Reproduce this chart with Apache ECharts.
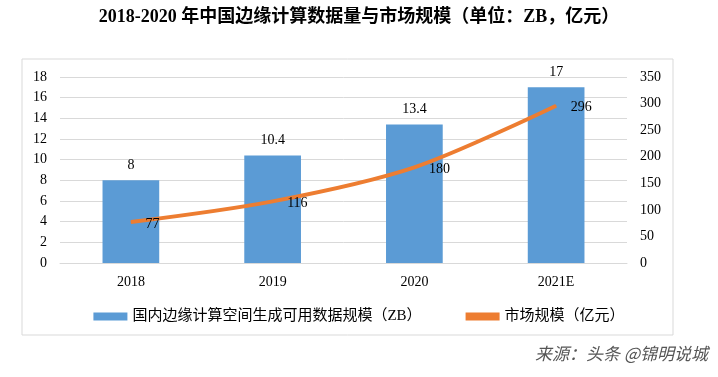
<!DOCTYPE html>
<html>
<head>
    <meta charset="utf-8">
    <title>中国边缘计算数据量与市场规模</title>
    <script src="https://cdn.jsdelivr.net/npm/echarts@6/dist/echarts.min.js"></script>
    <style>
        body { margin: 0; background: #fff; }
        #main { width: 718px; height: 377px; }
    </style>
</head>
<body>
<div id="main"></div>
<script type="text/javascript">
    // 数据
    var years = ['2018', '2019', '2020', '2021E'];
    var dataVolume = [8, 10.4, 13.4, 17];       // ZB
    var marketSize = [77, 116, 180, 296];       // 亿元
    var leftTicks = [0, 18, 2];
    var rightTicks = [0, 350, 50];

    var serif = '"Liberation Serif", "Noto Sans CJK SC", serif';

    var myChart = echarts.init(document.getElementById('main'));

    var option = {
        backgroundColor: '#fff',
        title: {
            text: '2018-2020 年中国边缘计算数据量与市场规模（单位：ZB，亿元）',
            left: 'center',
            top: 3,
            textStyle: { fontFamily: serif, fontSize: 18, fontWeight: 'bold', color: '#000' }
        },
        graphic: [
            {
                type: 'rect',
                shape: { x: 22, y: 59, width: 651, height: 276 },
                style: { fill: 'none', stroke: '#d9d9d9', lineWidth: 1 },
                silent: true
            },
            {
                type: 'text',
                right: 10,
                top: 345,
                style: {
                    text: '来源：头条 @锦明说城',
                    font: 'italic 17px "Noto Sans CJK SC"',
                    fill: '#555'
                }
            }
        ],
        legend: {
            top: 304,
            left: 'center',
            itemGap: 44,
            itemWidth: 34,
            itemHeight: 8,
            textStyle: { fontFamily: serif, fontSize: 15, color: '#000' },
            data: [
                { name: '国内边缘计算空间生成可用数据规模（ZB）', icon: 'rect' },
                { name: '市场规模（亿元）', icon: 'rect' }
            ]
        },
        grid: { left: 60, right: 91, top: 77, bottom: 114 },
        xAxis: {
            type: 'category',
            data: years,
            axisLine: { lineStyle: { color: '#d9d9d9' } },
            axisTick: { show: false },
            axisLabel: { fontFamily: serif, fontSize: 14, color: '#000', margin: 12 }
        },
        yAxis: [
            {
                type: 'value',
                min: leftTicks[0], max: leftTicks[1], interval: leftTicks[2],
                axisLine: { show: false },
                axisTick: { show: false },
                splitLine: { lineStyle: { color: '#d9d9d9' } },
                axisLabel: { fontFamily: serif, fontSize: 14, color: '#000', margin: 13 }
            },
            {
                type: 'value',
                min: rightTicks[0], max: rightTicks[1], interval: rightTicks[2],
                axisLine: { show: false },
                axisTick: { show: false },
                splitLine: { show: false },
                axisLabel: { fontFamily: serif, fontSize: 14, color: '#000', margin: 13 }
            }
        ],
        series: [
            {
                name: '国内边缘计算空间生成可用数据规模（ZB）',
                type: 'bar',
                data: dataVolume,
                barWidth: '40%',
                itemStyle: { color: '#5b9bd5' },
                label: {
                    show: true, position: 'top', distance: 8,
                    fontFamily: serif, fontSize: 14, color: '#000'
                }
            },
            {
                name: '市场规模（亿元）',
                type: 'line',
                yAxisIndex: 1,
                data: marketSize,
                smooth: 0.3,
                symbol: 'circle',
                symbolSize: 1,
                showSymbol: true,
                lineStyle: { color: '#ed7d31', width: 4 },
                itemStyle: { color: '#ed7d31' },
                label: {
                    show: true, position: 'right', distance: 4, offset: [10, 2],
                    fontFamily: serif, fontSize: 14, color: '#000'
                }
            }
        ]
    };

    myChart.setOption(option);
</script>
</body>
</html>
